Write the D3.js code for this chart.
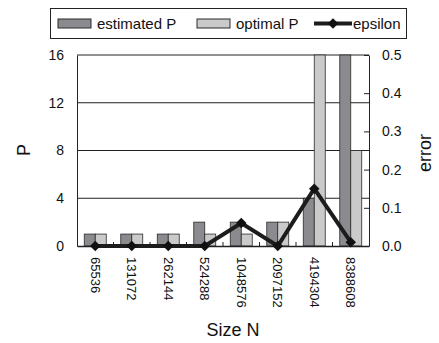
<!DOCTYPE html>
<html>
<head>
<meta charset="utf-8">
<script src="https://cdn.jsdelivr.net/npm/d3@7"></script>
<style>
  body { margin: 0; background: #fff; }
  svg { display: block; font-family: "Liberation Sans", Arial, sans-serif; }
</style>
</head>
<body>
<svg id="chart" width="439" height="343"></svg>
<script>
// data
var sizes = ["65536", "131072", "262144", "524288", "1048576", "2097152", "4194304", "8388608"];
var estimatedP = [1, 1, 1, 2, 2, 2, 4, 16];
var optimalP = [1, 1, 1, 1, 1, 2, 16, 8];
var epsilon = [0, 0, 0, 0, 0.06, 0, 0.15, 0.01];
var pTicks = [0, 4, 8, 12, 16];
var errTicks = [0, 0.1, 0.2, 0.3, 0.4, 0.5];

var seriesNames = ["estimated P", "optimal P"];
var colors = {"estimated P": "#8b8b8f", "optimal P": "#cacaca"};

var svg = d3.select("#chart"),
    margin = {top: 55, right: 70, bottom: 97, left: 77},
    width = +svg.attr("width") - margin.left - margin.right,
    height = +svg.attr("height") - margin.top - margin.bottom,
    g = svg.append("g").attr("transform", "translate(" + margin.left + "," + margin.top + ")");

// scales
var x = d3.scaleBand().domain(sizes).range([0, width]).padding(0);
var x1 = d3.scaleBand().domain(seriesNames).range([0, x.bandwidth()]).paddingInner(0).paddingOuter(0.66);
var y = d3.scaleLinear().domain([0, 16]).range([height, 0]);
var y2 = d3.scaleLinear().domain([0, 0.5]).range([height, 0]);

// gridlines
g.append("g")
  .selectAll("line")
  .data(pTicks.slice(1))
  .enter().append("line")
    .attr("x1", 0).attr("x2", width)
    .attr("y1", function(d) { return y(d); })
    .attr("y2", function(d) { return y(d); })
    .attr("stroke", "#222").attr("stroke-width", 1);

// bars
var rows = sizes.map(function(s, i) {
  return {size: s, values: [{key: "estimated P", value: estimatedP[i]}, {key: "optimal P", value: optimalP[i]}]};
});

g.append("g")
  .selectAll("g")
  .data(rows)
  .enter().append("g")
    .attr("transform", function(d) { return "translate(" + x(d.size) + ",0)"; })
  .selectAll("rect")
  .data(function(d) { return d.values; })
  .enter().append("rect")
    .attr("x", function(d) { return x1(d.key); })
    .attr("y", function(d) { return y(d.value); })
    .attr("width", x1.bandwidth())
    .attr("height", function(d) { return height - y(d.value); })
    .attr("fill", function(d) { return colors[d.key]; })
    .attr("stroke", "#2a2a2a")
    .attr("stroke-width", 0.8);

// left axis
var leftAxis = g.append("g")
  .call(d3.axisLeft(y).tickValues(pTicks).tickSize(0).tickPadding(13))
  .attr("font-family", null).attr("font-size", 14);
leftAxis.select(".domain").attr("stroke", "#222");
leftAxis.selectAll("text").attr("fill", "#111");

// right axis
var rightAxis = g.append("g")
  .attr("transform", "translate(" + width + ",0)")
  .call(d3.axisRight(y2).tickValues(errTicks).tickSizeInner(-5).tickSizeOuter(0).tickPadding(13).tickFormat(d3.format(".1f")))
  .attr("font-family", null).attr("font-size", 14);
rightAxis.select(".domain").attr("stroke", "#222");
rightAxis.selectAll("line").attr("stroke", "#222");
rightAxis.selectAll("text").attr("fill", "#111");

// bottom axis
var bottomAxis = g.append("g")
  .attr("transform", "translate(0," + height + ")")
  .call(d3.axisBottom(x).tickSize(0).tickPadding(0))
  .attr("font-family", null).attr("font-size", 13);
bottomAxis.select(".domain").attr("stroke", "#222").attr("stroke-width", 1.5);
bottomAxis.selectAll("text")
  .attr("fill", "#111")
  .attr("text-anchor", "start")
  .attr("transform", "translate(0,11) rotate(90)")
  .attr("x", 0).attr("y", 0).attr("dy", "0.35em");

// minor ticks at category boundaries (pointing inward)
g.append("g")
  .selectAll("line")
  .data(sizes.slice(1))
  .enter().append("line")
    .attr("x1", function(d) { return x(d); })
    .attr("x2", function(d) { return x(d); })
    .attr("y1", height).attr("y2", height - 4)
    .attr("stroke", "#222");

// epsilon line
var line = d3.line()
  .x(function(d, i) { return x(sizes[i]) + x.bandwidth() / 2; })
  .y(function(d) { return y2(d); });

g.append("path")
  .datum(epsilon)
  .attr("d", line)
  .attr("fill", "none")
  .attr("stroke", "#1c1c1c")
  .attr("stroke-width", 4)
  .attr("stroke-linejoin", "miter");

var diamond = d3.symbol().type(d3.symbolDiamond2).size(70);
g.append("g")
  .selectAll("path")
  .data(epsilon)
  .enter().append("path")
    .attr("d", diamond)
    .attr("transform", function(d, i) { return "translate(" + (x(sizes[i]) + x.bandwidth() / 2) + "," + y2(d) + ")"; })
    .attr("fill", "#111");

// axis titles
svg.append("text")
  .attr("transform", "translate(30,150) rotate(-90)")
  .attr("text-anchor", "middle")
  .attr("font-size", 18)
  .attr("fill", "#111")
  .text("P");

svg.append("text")
  .attr("transform", "translate(431,153) rotate(-90)")
  .attr("text-anchor", "middle")
  .attr("font-size", 18)
  .attr("fill", "#111")
  .text("error");

svg.append("text")
  .attr("x", 233).attr("y", 336)
  .attr("text-anchor", "middle")
  .attr("font-size", 18)
  .attr("fill", "#111")
  .text("Size N");

// LEGEND
var legend = svg.append("g");
legend.append("rect")
  .attr("x", 50.5).attr("y", 8.5)
  .attr("width", 356).attr("height", 30)
  .attr("fill", "#fff")
  .attr("stroke", "#222");

var legendItems = [
  {name: "estimated P", x: 58, type: "bar"},
  {name: "optimal P", x: 197, type: "bar"},
  {name: "epsilon", x: 314, type: "line"}
];

legendItems.forEach(function(d) {
  if (d.type === "bar") {
    legend.append("rect")
      .attr("x", d.x).attr("y", 19)
      .attr("width", 33).attr("height", 9)
      .attr("fill", colors[d.name])
      .attr("stroke", "#2a2a2a");
  } else {
    legend.append("line")
      .attr("x1", d.x).attr("x2", d.x + 38)
      .attr("y1", 23.5).attr("y2", 23.5)
      .attr("stroke", "#1c1c1c").attr("stroke-width", 4);
    legend.append("path")
      .attr("d", diamond)
      .attr("transform", "translate(" + (d.x + 19) + ",23.5)")
      .attr("fill", "#111");
  }
  legend.append("text")
    .attr("x", d.x + 39)
    .attr("y", 28.5)
    .attr("font-size", 15)
    .attr("fill", "#111")
    .text(d.name);
});
</script>
</body>
</html>
